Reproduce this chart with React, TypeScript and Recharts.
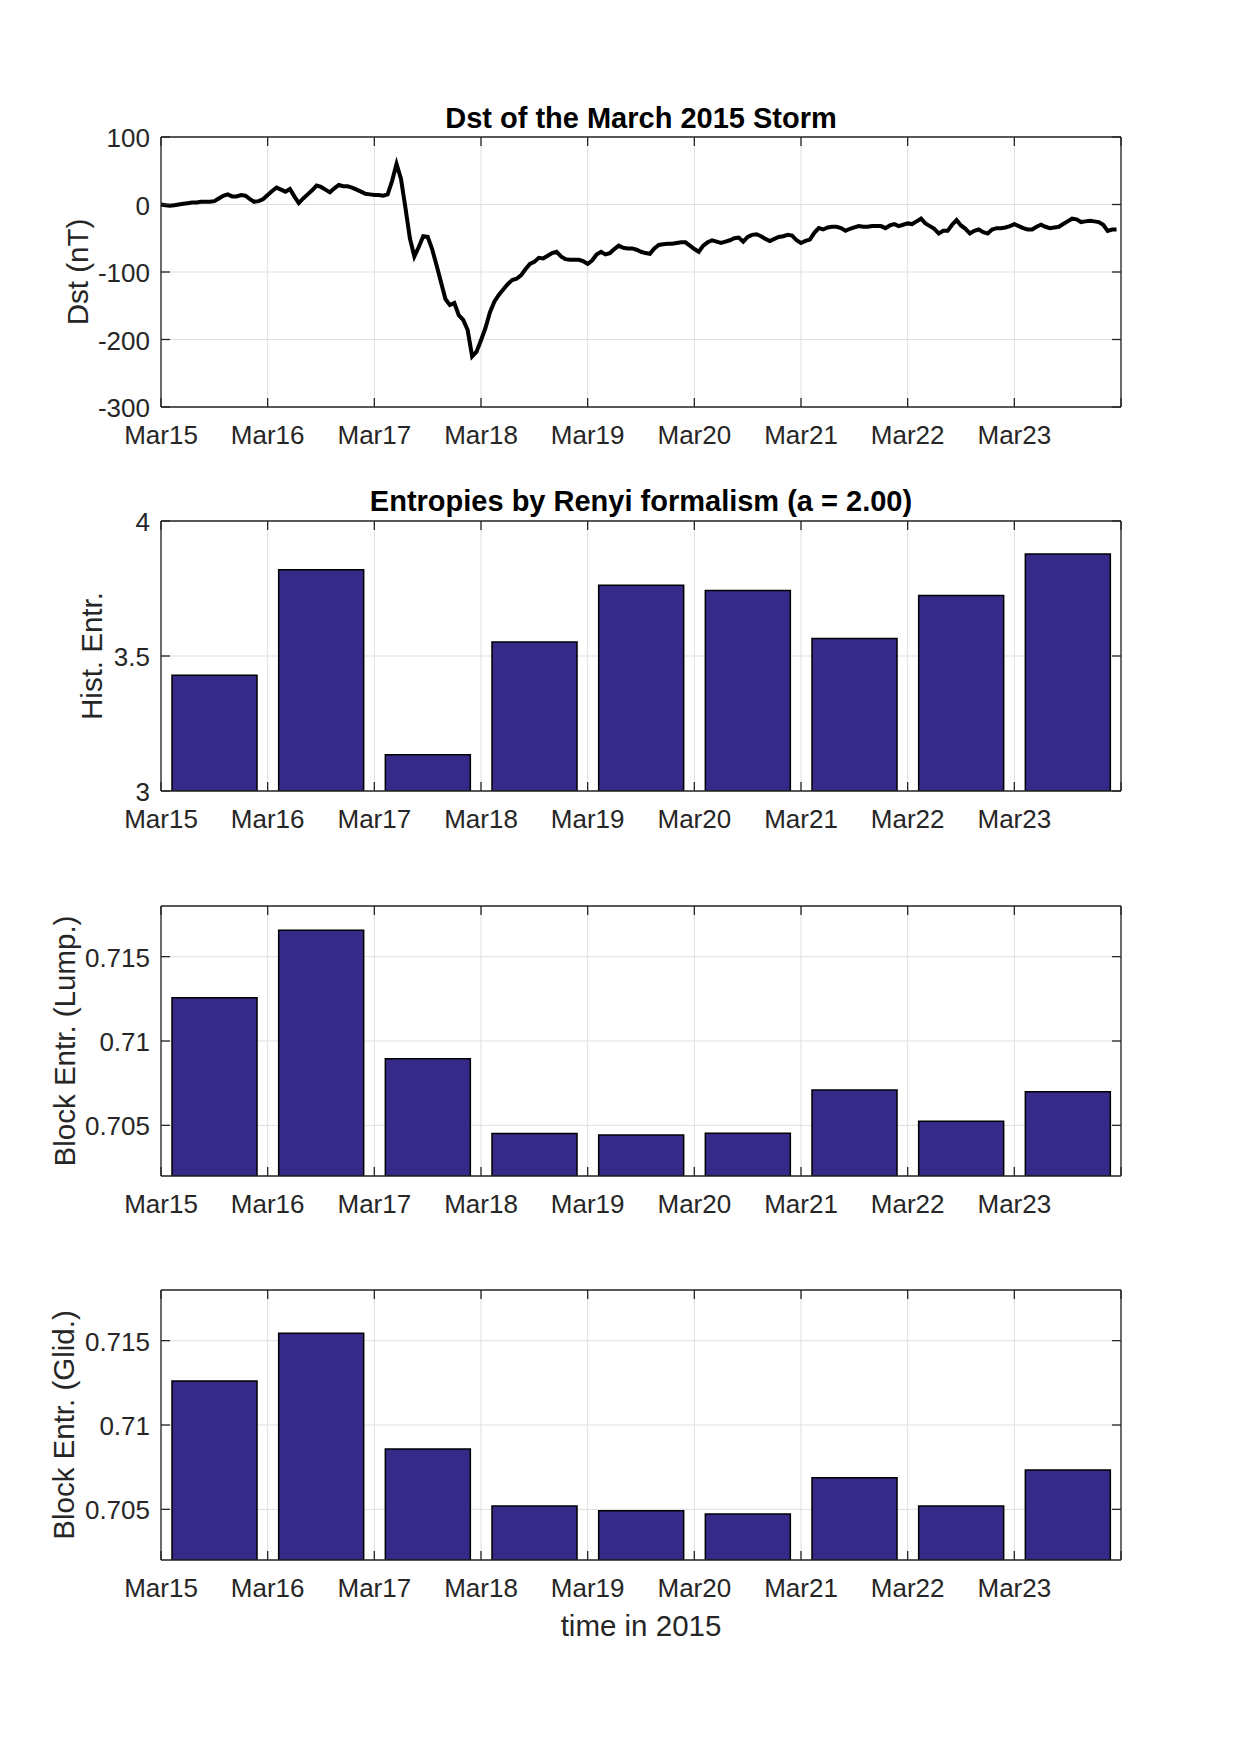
import React from "react";
import { LineChart, Line, BarChart, Bar, XAxis, YAxis, CartesianGrid } from "recharts";

// day labels, tick positions in hours from Mar15 00:00
const dayLabels = ["Mar15", "Mar16", "Mar17", "Mar18", "Mar19", "Mar20", "Mar21", "Mar22", "Mar23"];
const hourTicks = [0, 24, 48, 72, 96, 120, 144, 168, 192, 216];

// hourly Dst (nT), Mar15 00h .. Mar23 23h
const dstHourly = [
  0, -1, -2, -1, 0, 1, 2, 3, 3, 4, 4, 4, 5, 9, 13, 15, 12, 12, 14, 13, 8, 4, 5, 8,
  14, 20, 25, 22, 19, 23, 12, 2, 9, 15, 21, 28, 26, 22, 18, 24, 29, 27, 27, 25, 22, 19, 16, 15,
  14, 14, 13, 15, 35, 60, 38, -5, -50, -77, -63, -47, -48, -66, -90, -115, -140, -149, -146, -164, -171, -186, -225, -218,
  -201, -183, -160, -144, -134, -126, -118, -112, -110, -105, -96, -88, -85, -79, -80, -76, -72, -70, -77, -81, -82, -82, -82, -84,
  -88, -83, -74, -70, -74, -72, -66, -61, -64, -65, -65, -67, -70, -72, -73, -65, -60, -59, -58, -58, -57, -56, -56, -61,
  -66, -70, -61, -56, -53, -55, -57, -55, -53, -50, -49, -55, -48, -45, -44, -47, -51, -54, -51, -48, -47, -45, -46, -53,
  -57, -54, -52, -42, -35, -37, -34, -33, -33, -35, -39, -36, -34, -32, -33, -33, -32, -32, -32, -35, -31, -29, -32, -30,
  -28, -29, -25, -21, -28, -32, -36, -43, -39, -39, -30, -23, -31, -36, -43, -39, -37, -41, -43, -37, -35, -35, -34, -32,
  -29, -32, -35, -37, -37, -33, -30, -33, -35, -34, -33, -29, -25, -21, -22, -26, -25, -24, -25, -26, -30, -39, -37, -37,
];

const histEntropy = [3.429, 3.819, 3.134, 3.552, 3.762, 3.743, 3.565, 3.724, 3.878];
const blockLump = [0.71257, 0.71656, 0.70895, 0.70452, 0.70443, 0.70454, 0.70709, 0.70524, 0.70699];
const blockGlid = [0.71261, 0.71543, 0.70858, 0.7052, 0.70492, 0.70473, 0.70687, 0.7052, 0.70734];

const dstTicks = [-300, -200, -100, 0, 100];
const histTicks = [3, 3.5, 4];
const blockTicks = [0.705, 0.71, 0.715];

const dstData = dstHourly.map((v, i) => ({ t: i, v }));
const daily = (vals: number[]) => vals.map((v, i) => ({ t: i * 24 + 12, v }));

const W = 1239;
const PL = 161;
const PR = 1121;
const PH = 270;
const PAD = 60;
const AX = "#262626";
const GRID = "#dfdfdf";
const FONT = "'Liberation Sans', Arial, Helvetica, sans-serif";
const TICK = 9;
const TF = 26; // tick label size
const LF = 29.5; // axis label size

function BottomTick({ x, y, payload }: any) {
  const lab = dayLabels[Math.round(payload.value / 24)] ?? "";
  return (
    <g>
      <line x1={x} x2={x} y1={y} y2={y - TICK} stroke={AX} strokeWidth={1.3} />
      <text x={x} y={y + 37} textAnchor="middle" fontSize={TF} fill={AX} fontFamily={FONT}>
        {lab}
      </text>
    </g>
  );
}
function TopTick({ x, y }: any) {
  return <line x1={x} x2={x} y1={y} y2={y + TICK} stroke={AX} strokeWidth={1.3} />;
}
function LeftTick({ x, y, payload }: any) {
  return (
    <g>
      <line x1={x} x2={x + TICK} y1={y} y2={y} stroke={AX} strokeWidth={1.3} />
      <text x={x - 11} y={y + 10} textAnchor="end" fontSize={TF} fill={AX} fontFamily={FONT}>
        {String(payload.value)}
      </text>
    </g>
  );
}
function RightTick({ x, y }: any) {
  return <line x1={x} x2={x - TICK} y1={y} y2={y} stroke={AX} strokeWidth={1.3} />;
}

function axes(domain: number[], ticks: number[]) {
  const line = { stroke: AX, strokeWidth: 1.3 };
  return [
    <CartesianGrid key="g" stroke={GRID} strokeWidth={1} />,
    <XAxis key="xb" dataKey="t" type="number" domain={[0, 216]} ticks={hourTicks} interval={0}
      height={1} tickSize={0} tickMargin={0} axisLine={line} tickLine={false} tick={BottomTick} />,
    <XAxis key="xt" xAxisId="top" orientation="top" dataKey="t" type="number" domain={[0, 216]} ticks={hourTicks}
      interval={0} height={1} tickSize={0} tickMargin={0} axisLine={line} tickLine={false} tick={TopTick} />,
    <YAxis key="yl" type="number" domain={domain} ticks={ticks} interval={0} allowDataOverflow width={1}
      tickSize={0} tickMargin={0} axisLine={line} tickLine={false} tick={LeftTick} />,
    <YAxis key="yr" yAxisId="right" orientation="right" type="number" domain={domain} ticks={ticks} interval={0}
      allowDataOverflow width={1} tickSize={0} tickMargin={0} axisLine={line} tickLine={false} tick={RightTick} />,
  ];
}

const margin = { top: PAD - 1, bottom: PAD - 1, left: PL - 1, right: W - PR - 1 };

function BarPanel({ top, data, domain, ticks }: any) {
  return (
    <div style={{ position: "absolute", left: 0, top: top - PAD }}>
      <BarChart width={W} height={PH + 2 * PAD} data={data} margin={margin}>
        {axes(domain, ticks)}
        <Bar dataKey="v" fill="#352A87" stroke="#000" strokeWidth={1.5} barSize={85} isAnimationActive={false} />
      </BarChart>
    </div>
  );
}

const tops = [137, 521, 906, 1290];

export default function App() {
  const txt = { fontFamily: FONT, fill: AX };
  return (
    <div style={{ position: "relative", width: W, height: 1753, background: "#fff" }}>
      <style>{`body{margin:0}`}</style>
      <div style={{ position: "absolute", left: 0, top: tops[0] - PAD }}>
        <LineChart width={W} height={PH + 2 * PAD} data={dstData} margin={margin}>
          {axes([-300, 100], dstTicks)}
          <Line dataKey="v" type="linear" stroke="#000" strokeWidth={4} dot={false} isAnimationActive={false} />
        </LineChart>
      </div>
      <BarPanel top={tops[1]} data={daily(histEntropy)} domain={[3, 4]} ticks={histTicks} />
      <BarPanel top={tops[2]} data={daily(blockLump)} domain={[0.702, 0.718]} ticks={blockTicks} />
      <BarPanel top={tops[3]} data={daily(blockGlid)} domain={[0.702, 0.718]} ticks={blockTicks} />
      <svg width={W} height={1753} style={{ position: "absolute", left: 0, top: 0, pointerEvents: "none" }}>
        <text x={641} y={tops[0] - 9} textAnchor="middle" fontSize={29} fontWeight="bold" fontFamily={FONT} fill="#000">
          Dst of the March 2015 Storm
        </text>
        <text x={641} y={tops[1] - 10} textAnchor="middle" fontSize={29} fontWeight="bold" fontFamily={FONT} fill="#000">
          Entropies by Renyi formalism (a = 2.00)
        </text>
        <text transform={`translate(77,${tops[0] + PH / 2}) rotate(-90)`} textAnchor="middle" dominantBaseline="central" fontSize={LF} {...txt}>
          Dst (nT)
        </text>
        <text transform={`translate(91,${tops[1] + PH / 2}) rotate(-90)`} textAnchor="middle" dominantBaseline="central" fontSize={LF} {...txt}>
          Hist. Entr.
        </text>
        <text transform={`translate(64,${tops[2] + PH / 2}) rotate(-90)`} textAnchor="middle" dominantBaseline="central" fontSize={LF} {...txt}>
          Block Entr. (Lump.)
        </text>
        <text transform={`translate(63,${tops[3] + PH / 2}) rotate(-90)`} textAnchor="middle" dominantBaseline="central" fontSize={LF} {...txt}>
          Block Entr. (Glid.)
        </text>
        <text x={641} y={tops[3] + PH + 76} textAnchor="middle" fontSize={LF} {...txt}>
          time in 2015
        </text>
      </svg>
    </div>
  );
}
